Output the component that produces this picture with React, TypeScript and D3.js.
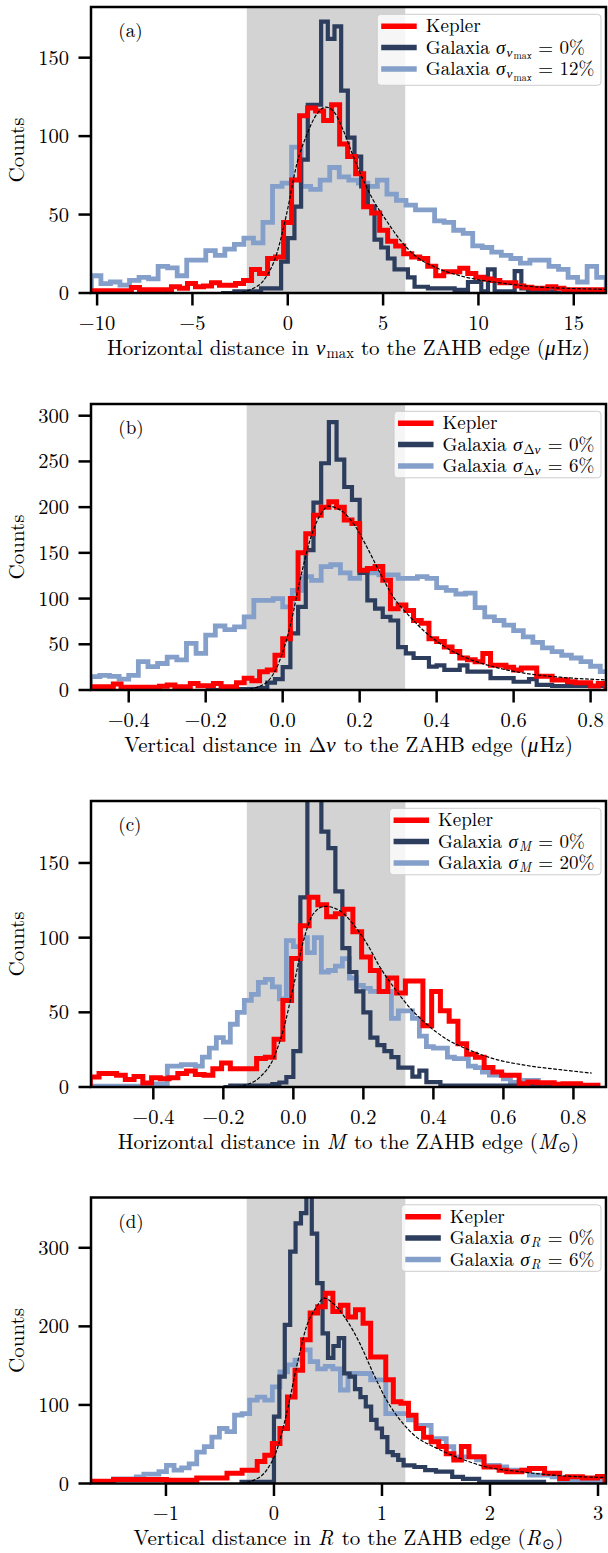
import React, { useEffect, useRef } from 'react';
import * as d3 from 'd3';

const W = 608;
const H = 1553;
const FRAME_LEFT = 91;
const FRAME_RIGHT = 606;
const FRAME_H = 286;

const RED = '#ff0000';
const NAVY = '#2c3d5d';
const LIGHT = '#849fca';
const SHADE = '#d3d3d3';

// ---------- (a) nu_max ----------
const A_XDOMAIN = [-10.32, 16.69];
const A_YMAX = 182.3;
const A_XTICKS = [-10, -5, 0, 5, 10, 15];
const A_YTICKS = [0, 50, 100, 150];
const A_SHADE = [-2.15, 6.16];
const A_KEPLER_START = -10.3;
const A_KEPLER_WIDTH = 0.42;
const A_KEPLER = [
  1.5, 1.5, 1.5, 1.5, 1.5, 3.5, 2, 2, 2, 2,
  4, 3, 6, 4, 4.5, 6.5, 5, 5, 6, 8,
  15, 12.5, 22, 23, 45, 72, 113, 118, 116, 110,
  120, 95, 87, 76, 55, 51, 40, 33, 30, 25,
  23, 22, 17, 11, 13.5, 13.5, 15.7, 12.5, 10, 9,
  8, 6.5, 6.5, 4.5, 3.6, 3, 3, 4, 3, 2,
  2, 2, 2, 2,
];
const A_GAL0_START = -3.5;
const A_GAL0_WIDTH = 0.35;
const A_GAL0 = [
  0, 0, 1, 1, 1, 1, 3, 3, 3, 20,
  35, 55, 85, 120, 120, 173, 162, 170, 129, 99,
  87, 68, 55, 34, 29, 22, 15, 15, 10, 4,
  4, 3, 3, 3, 3, 2, 2, 7, 7, 1,
  15, 1, 1, 1, 14, 3, 2, 1, 1, 1,
  0,
];
const A_GAL12_START = -10.3;
const A_GAL12_WIDTH = 0.5;
const A_GAL12 = [
  11, 6, 7, 5, 8, 10, 9, 17, 16, 11,
  21, 21, 27, 24, 28, 31, 35, 32, 45, 68,
  70, 93, 68, 66, 72, 80, 74, 72, 70, 68,
  72, 63, 59, 56, 53, 53, 46, 45, 40, 38,
  30, 29, 26, 24, 22, 19, 21, 21, 17, 15,
  10, 7, 17, 10,
];
const A_FIT: [number, number][] = [
  [-2.4, 0.5], [-1.9, 2.5], [-1.27, 8], [-0.58, 25], [-0.05, 51], [0.47, 82],
  [1.0, 101], [1.52, 114], [2.0, 118.5], [2.39, 116], [2.9, 104], [3.44, 87],
  [3.96, 72], [4.49, 59], [5.18, 46], [5.88, 34], [6.75, 23], [7.63, 17],
  [9.37, 10], [11.1, 6.5], [12.86, 4], [14.6, 3], [16.69, 2.3],
];

// ---------- (b) delta nu ----------
const B_XDOMAIN = [-0.498, 0.84];
const B_YMAX = 312.8;
const B_XTICKS = [-0.4, -0.2, 0, 0.2, 0.4, 0.6, 0.8];
const B_YTICKS = [0, 50, 100, 150, 200, 250, 300];
const B_SHADE = [-0.0935, 0.318];
const B_KEPLER_START = -0.5;
const B_KEPLER_WIDTH = 0.02;
const B_KEPLER = [
  3.6, 3.6, 3.6, 6.5, 3, 3, 3, 3, 3, 4,
  5.5, 3.6, 3.6, 7, 4.7, 4.7, 7, 3.6, 3.6, 8,
  12.8, 10, 20, 22, 38, 56, 100, 150, 171, 191,
  200, 206, 200, 186, 182, 131, 133, 135, 120, 89,
  93, 87, 76, 73, 56, 53, 47, 42, 35, 33,
  31, 40, 27, 27, 25, 22, 24, 24, 15, 15,
  11, 11, 9, 8, 8, 4.4, 7,
];
const B_GAL0_START = -0.2;
const B_GAL0_WIDTH = 0.02;
const B_GAL0 = [
  0, 0, 0, 1, 1, 1, 1, 2, 8, 12,
  25, 62, 91, 153, 205, 248, 293, 252, 222, 208,
  128, 98, 89, 80, 76, 47, 40, 35, 35, 25.5,
  27, 22, 22, 27, 20, 20, 20, 13, 13, 13,
  9, 9, 12, 5.5, 5.5, 4.4, 4.4, 4.4, 4.4, 4.4,
  4.4, 4.4,
];
const B_GAL6_START = -0.5;
const B_GAL6_WIDTH = 0.025;
const B_GAL6 = [
  14.6, 16, 15, 12, 16, 31, 25.5, 29, 36, 33,
  51, 40, 60, 70, 66, 69, 80, 98, 98, 100,
  91, 109, 124, 120, 135, 137, 128, 122, 130, 128,
  126, 126, 122, 122, 124, 122, 112, 109, 105, 106,
  90, 80, 76, 71, 65, 58, 52, 46, 42, 38,
  35, 31, 26, 20,
];
const B_FIT: [number, number][] = [
  [-0.1, 0.5], [-0.076, 2], [-0.04, 9], [-0.007, 33], [0.019, 69], [0.045, 120],
  [0.071, 164], [0.097, 191], [0.119, 201], [0.149, 197], [0.184, 182],
  [0.218, 157], [0.253, 128], [0.287, 102], [0.331, 80], [0.374, 62],
  [0.426, 46], [0.478, 35], [0.547, 25.5], [0.634, 18], [0.72, 14], [0.84, 11],
];

// ---------- (c) mass ----------
const C_XDOMAIN = [-0.578, 0.893];
const C_YMAX = 191.5;
const C_XTICKS = [-0.4, -0.2, 0, 0.2, 0.4, 0.6, 0.8];
const C_YTICKS = [0, 50, 100, 150];
const C_SHADE = [-0.133, 0.32];
const C_KEPLER_START = -0.58;
const C_KEPLER_WIDTH = 0.025;
const C_KEPLER = [
  6.7, 9, 9, 7.8, 5, 7, 2.7, 6.2, 5.5, 6.2,
  9, 10.7, 8.4, 7.8, 12.2, 16, 12.2, 12.2, 12.2, 19,
  20, 32, 58, 86, 108, 127, 122, 114, 116, 119,
  104, 87, 78, 64, 73, 63, 71, 71, 41, 64,
  51, 44, 29, 22, 20, 13, 10, 7.8, 7.8, 2.2,
  3.3, 2.9, 2.9, 1.8, 2.2, 2.2, 1.1, 1.1,
];
const C_GAL0_START = -0.2;
const C_GAL0_WIDTH = 0.02;
const C_GAL0 = [
  0, 1, 1, 1, 1, 1, 1, 2, 3, 6.7,
  24, 127, 300, 260, 171, 160, 131, 93, 77, 64,
  50, 33, 28, 24, 20, 13, 13, 7, 11, 3.3,
  3.3, 1, 1, 1, 1, 1, 1, 1, 1, 1,
  1, 1, 1, 1, 1, 1, 1, 1, 0,
];
const C_GAL20_START = -0.58;
const C_GAL20_WIDTH = 0.02;
const C_GAL20 = [
  0.5, 0.5, 0.5, 0.5, 0.5, 0.5, 0.5, 0.5, 2, 2,
  2, 14, 14, 15, 15, 14, 20, 26, 33, 30,
  42, 50, 58, 62, 70, 72, 67, 59, 98, 94,
  100, 90, 100, 77, 78, 81, 86, 73, 68, 66,
  64, 64, 64, 46, 51, 51, 46, 34, 27, 26,
  26, 20, 19, 19, 14, 13, 10, 8, 8, 5.5,
  3, 3, 4.4, 4.4, 0,
];
const C_FIT: [number, number][] = [
  [-0.16, 0.3], [-0.143, 1], [-0.095, 6.7], [-0.057, 19], [-0.029, 38], [0, 67],
  [0.029, 98], [0.057, 116], [0.09, 121], [0.133, 118], [0.171, 109],
  [0.21, 96], [0.248, 80], [0.286, 67], [0.333, 53], [0.381, 42], [0.438, 32],
  [0.495, 25.5], [0.571, 19], [0.667, 14.4], [0.762, 11.6], [0.852, 9.3],
];

// ---------- (d) radius ----------
const D_XDOMAIN = [-1.694, 3.074];
const D_YMAX = 364;
const D_XTICKS = [-1, 0, 1, 2, 3];
const D_YTICKS = [0, 100, 200, 300];
const D_SHADE = [-0.253, 1.216];
const D_KEPLER_START = -1.695;
const D_KEPLER_WIDTH = 0.07;
const D_KEPLER = [
  3, 3, 3, 5, 5, 5, 5, 5, 5, 5,
  4, 4, 4, 4, 7, 7, 7, 7, 13, 13,
  17, 17, 28, 36, 51, 70, 110, 144, 183, 217,
  225, 242, 219, 227, 212, 221, 204, 161, 161, 132,
  104, 102, 87, 70, 59, 53, 47, 38, 30, 47,
  34, 34, 21, 21, 17, 15, 15, 17, 19, 19,
  13, 13, 6.4, 8.5, 8.5, 7, 7, 9,
];
const D_GAL0_START = -0.3;
const D_GAL0_WIDTH = 0.05;
const D_GAL0 = [
  2, 2, 2, 2, 2, 2, 85, 136, 202, 295,
  331, 344, 380, 318, 255, 191, 160, 175, 185, 140,
  136, 120, 110, 98, 81, 70, 59, 40, 36, 30,
  23, 23, 21, 21, 17, 17, 15, 15, 15, 8.5,
  8.5, 6, 6, 6, 2, 2, 2, 2, 2, 2,
  2, 2, 2, 2, 2, 2,
];
const D_GAL6_START = -1.695;
const D_GAL6_WIDTH = 0.07;
const D_GAL6 = [
  1, 1, 1, 6, 6, 6, 8.5, 12, 12, 15,
  23, 17, 20, 25, 40, 47, 59, 70, 66, 87,
  89, 106, 110, 106, 123, 142, 151, 157, 170, 155,
  146, 149, 146, 119, 140, 140, 140, 132, 132, 89,
  89, 89, 81, 74, 74, 57, 57, 47, 34, 34,
  34, 30, 23, 23, 21, 17, 17, 17, 10.6, 10.6,
  10.6, 8.5, 4, 4, 4, 3, 3, 3,
];
const D_FIT: [number, number][] = [
  [-0.3, 0.5], [-0.19, 4], [-0.068, 17], [0.025, 42], [0.117, 89], [0.21, 149],
  [0.302, 200], [0.395, 225], [0.465, 236], [0.549, 229], [0.673, 208],
  [0.796, 178], [0.92, 140], [1.043, 106], [1.167, 81], [1.32, 59],
  [1.475, 47], [1.722, 32], [1.969, 21], [2.278, 15], [2.586, 10.6], [3.074, 7.6],
];

// rich text pieces: it = italic, lvl = subscript depth
type Seg = { t: string; it?: boolean; lvl?: number };

const A_XLABEL: Seg[] = [
  { t: 'Horizontal distance in ' }, { t: 'ν', it: true }, { t: 'max', lvl: 1 },
  { t: ' to the ZAHB edge (' }, { t: 'μ', it: true }, { t: 'Hz)' },
];
const B_XLABEL: Seg[] = [
  { t: 'Vertical distance in Δ' }, { t: 'ν', it: true },
  { t: ' to the ZAHB edge (' }, { t: 'μ', it: true }, { t: 'Hz)' },
];
const C_XLABEL: Seg[] = [
  { t: 'Horizontal distance in ' }, { t: 'M', it: true },
  { t: ' to the ZAHB edge (' }, { t: 'M', it: true }, { t: '⊙', lvl: 1 }, { t: ')' },
];
const D_XLABEL: Seg[] = [
  { t: 'Vertical distance in ' }, { t: 'R', it: true },
  { t: ' to the ZAHB edge (' }, { t: 'R', it: true }, { t: '⊙', lvl: 1 }, { t: ')' },
];

const KEPLER_LABEL: Seg[] = [{ t: 'Kepler' }];
const A_SIGMA: Seg[] = [{ t: 'σ', it: true }, { t: 'ν', it: true, lvl: 1 }, { t: 'max', lvl: 2 }];
const B_SIGMA: Seg[] = [{ t: 'σ', it: true }, { t: 'Δ', lvl: 1 }, { t: 'ν', it: true, lvl: 1 }];
const C_SIGMA: Seg[] = [{ t: 'σ', it: true }, { t: 'M', it: true, lvl: 1 }];
const D_SIGMA: Seg[] = [{ t: 'σ', it: true }, { t: 'R', it: true, lvl: 1 }];
const A_ERRORS = ['0%', '12%'];
const B_ERRORS = ['0%', '6%'];
const C_ERRORS = ['0%', '20%'];
const D_ERRORS = ['0%', '6%'];

const galaxia = (sigma: Seg[], err: string): Seg[] => [
  { t: 'Galaxia ' }, ...sigma, { t: ` = ${err}` },
];

const PANELS = [
  {
    top: 7, tag: '(a)', xDomain: A_XDOMAIN, yMax: A_YMAX, xTicks: A_XTICKS, yTicks: A_YTICKS,
    shade: A_SHADE, fmt: d3.format('d'), fit: A_FIT, xLabel: A_XLABEL, legendH: 71,
    hists: [
      { start: A_GAL12_START, width: A_GAL12_WIDTH, counts: A_GAL12, color: LIGHT, lw: 4.8 },
      { start: A_GAL0_START, width: A_GAL0_WIDTH, counts: A_GAL0, color: NAVY, lw: 4.2 },
      { start: A_KEPLER_START, width: A_KEPLER_WIDTH, counts: A_KEPLER, color: RED, lw: 5 },
    ],
    legend: [KEPLER_LABEL, galaxia(A_SIGMA, A_ERRORS[0]), galaxia(A_SIGMA, A_ERRORS[1])],
  },
  {
    top: 404, tag: '(b)', xDomain: B_XDOMAIN, yMax: B_YMAX, xTicks: B_XTICKS, yTicks: B_YTICKS,
    shade: B_SHADE, fmt: d3.format('.1f'), fit: B_FIT, xLabel: B_XLABEL, legendH: 66.5,
    hists: [
      { start: B_GAL6_START, width: B_GAL6_WIDTH, counts: B_GAL6, color: LIGHT, lw: 4.8 },
      { start: B_GAL0_START, width: B_GAL0_WIDTH, counts: B_GAL0, color: NAVY, lw: 4.2 },
      { start: B_KEPLER_START, width: B_KEPLER_WIDTH, counts: B_KEPLER, color: RED, lw: 5 },
    ],
    legend: [KEPLER_LABEL, galaxia(B_SIGMA, B_ERRORS[0]), galaxia(B_SIGMA, B_ERRORS[1])],
  },
  {
    top: 801, tag: '(c)', xDomain: C_XDOMAIN, yMax: C_YMAX, xTicks: C_XTICKS, yTicks: C_YTICKS,
    shade: C_SHADE, fmt: d3.format('.1f'), fit: C_FIT, xLabel: C_XLABEL, legendH: 66.5,
    hists: [
      { start: C_GAL20_START, width: C_GAL20_WIDTH, counts: C_GAL20, color: LIGHT, lw: 4.8 },
      { start: C_GAL0_START, width: C_GAL0_WIDTH, counts: C_GAL0, color: NAVY, lw: 4.2 },
      { start: C_KEPLER_START, width: C_KEPLER_WIDTH, counts: C_KEPLER, color: RED, lw: 5 },
    ],
    legend: [KEPLER_LABEL, galaxia(C_SIGMA, C_ERRORS[0]), galaxia(C_SIGMA, C_ERRORS[1])],
  },
  {
    top: 1197.5, tag: '(d)', xDomain: D_XDOMAIN, yMax: D_YMAX, xTicks: D_XTICKS, yTicks: D_YTICKS,
    shade: D_SHADE, fmt: d3.format('d'), fit: D_FIT, xLabel: D_XLABEL, legendH: 66.5,
    hists: [
      { start: D_GAL6_START, width: D_GAL6_WIDTH, counts: D_GAL6, color: LIGHT, lw: 4.8 },
      { start: D_GAL0_START, width: D_GAL0_WIDTH, counts: D_GAL0, color: NAVY, lw: 4.2 },
      { start: D_KEPLER_START, width: D_KEPLER_WIDTH, counts: D_KEPLER, color: RED, lw: 5 },
    ],
    legend: [KEPLER_LABEL, galaxia(D_SIGMA, D_ERRORS[0]), galaxia(D_SIGMA, D_ERRORS[1])],
  },
];

const LEGEND_COLORS = [RED, NAVY, LIGHT];
const SUB_SIZE = [1, 0.7, 0.52];
const SUB_SHIFT = [0, 0.17, 0.3];

// Latin Modern is the closest thing to the LaTeX look if the box has it
function hasFont(name: string): boolean {
  const ctx = document.createElement('canvas').getContext('2d');
  if (!ctx) return false;
  const sample = 'Kepler Galaxia 0123456789 mmmWWWiii';
  ctx.font = '40px monospace';
  const base = ctx.measureText(sample).width;
  ctx.font = `40px "${name}", monospace`;
  return Math.abs(ctx.measureText(sample).width - base) > 0.5;
}

function richText(sel: d3.Selection<SVGTextElement, unknown, null, undefined>, segs: Seg[], size: number) {
  let cur = 0;
  let prevItalic = false;
  segs.forEach((s) => {
    const lvl = s.lvl ?? 0;
    const shift = SUB_SHIFT[lvl] * size;
    sel.append('tspan')
      .attr('dx', prevItalic ? size * 0.06 : 0)
      .attr('dy', shift - cur)
      .attr('font-style', s.it ? 'italic' : 'normal')
      .attr('font-size', size * SUB_SIZE[lvl])
      .text(s.t);
    cur = shift;
    prevItalic = !!s.it;
  });
}

// outline of a step histogram, dropping to zero at both ends
function stepPoints(start: number, width: number, counts: number[]): [number, number][] {
  const pts: [number, number][] = [[start, 0]];
  counts.forEach((c, i) => {
    pts.push([start + i * width, c]);
    pts.push([start + (i + 1) * width, c]);
  });
  pts.push([start + counts.length * width, 0]);
  return pts;
}

export default function App() {
  const ref = useRef<SVGSVGElement>(null);

  useEffect(() => {
    document.body.style.margin = '0';
    const lm = hasFont('Latin Modern Roman');
    const font = lm ? '"Latin Modern Roman", "Liberation Serif", serif' : '"Liberation Serif", serif';
    const tickSize = lm ? 20.5 : 20;
    const labelSize = lm ? 21 : 20;
    const legendSize = lm ? 19 : 19.5;
    const tickSpacing = lm ? 0 : 0.5;
    const labelSpacing = lm ? 0 : 1.3;

    const svg = d3.select(ref.current);
    svg.selectAll('*').remove();
    svg.attr('font-family', font);

    PANELS.forEach((p, pi) => {
      const top = p.top;
      const bottom = top + FRAME_H;
      const x = d3.scaleLinear().domain(p.xDomain).range([FRAME_LEFT, FRAME_RIGHT]);
      const y = d3.scaleLinear().domain([0, p.yMax]).range([bottom, top]);
      const g = svg.append('g');

      const clipId = `clip-${pi}`;
      g.append('clipPath').attr('id', clipId)
        .append('rect')
        .attr('x', FRAME_LEFT).attr('y', top)
        .attr('width', FRAME_RIGHT - FRAME_LEFT).attr('height', FRAME_H);
      const plot = g.append('g').attr('clip-path', `url(#${clipId})`);

      // ZAHB band
      plot.append('rect')
        .attr('x', x(p.shade[0])).attr('y', top)
        .attr('width', x(p.shade[1]) - x(p.shade[0])).attr('height', FRAME_H)
        .attr('fill', SHADE);

      const line = d3.line<[number, number]>().x((d) => x(d[0])).y((d) => y(d[1]));
      p.hists.forEach((h) => {
        plot.append('path')
          .attr('d', line(stepPoints(h.start, h.width, h.counts)))
          .attr('fill', 'none')
          .attr('stroke', h.color)
          .attr('stroke-width', h.lw)
          .attr('stroke-linejoin', 'miter');
      });

      plot.append('path')
        .attr('d', line.curve(d3.curveMonotoneX)(p.fit))
        .attr('fill', 'none')
        .attr('stroke', '#000')
        .attr('stroke-width', 1.2)
        .attr('stroke-dasharray', '3.7,1.6');

      g.append('rect')
        .attr('x', FRAME_LEFT).attr('y', top)
        .attr('width', FRAME_RIGHT - FRAME_LEFT).attr('height', FRAME_H)
        .attr('fill', 'none').attr('stroke', '#000').attr('stroke-width', 2.5);

      p.xTicks.forEach((t) => {
        g.append('line')
          .attr('x1', x(t)).attr('x2', x(t))
          .attr('y1', bottom).attr('y2', bottom + 12.5)
          .attr('stroke', '#000').attr('stroke-width', 2.5);
        g.append('text')
          .attr('x', x(t)).attr('y', bottom + 36.7)
          .attr('text-anchor', 'middle')
          .attr('font-size', tickSize)
          .attr('letter-spacing', tickSpacing)
          .text(p.fmt(t));
      });

      p.yTicks.forEach((t) => {
        g.append('line')
          .attr('x1', FRAME_LEFT - 12.5).attr('x2', FRAME_LEFT)
          .attr('y1', y(t)).attr('y2', y(t))
          .attr('stroke', '#000').attr('stroke-width', 2.5);
        g.append('text')
          .attr('x', 69).attr('y', y(t) + 7)
          .attr('text-anchor', 'end')
          .attr('font-size', tickSize)
          .attr('letter-spacing', tickSpacing)
          .text(d3.format('d')(t));
      });

      g.append('text')
        .attr('transform', `translate(24,${top + FRAME_H / 2}) rotate(-90)`)
        .attr('text-anchor', 'middle')
        .attr('font-size', labelSize)
        .attr('letter-spacing', labelSpacing)
        .text('Counts');

      const xl = g.append('text')
        .attr('x', (FRAME_LEFT + FRAME_RIGHT) / 2)
        .attr('y', bottom + 61.5)
        .attr('text-anchor', 'middle')
        .attr('font-size', labelSize)
        .attr('letter-spacing', labelSpacing)
        .style('white-space', 'pre');
      richText(xl, p.xLabel, labelSize);

      g.append('text')
        .attr('x', 118.3).attr('y', top + 30)
        .attr('font-size', legendSize)
        .text(p.tag);

      // legend, sized from the measured text
      const lg = g.append('g');
      const box = lg.append('rect');
      const rows = [top + 19.2, top + 40.6, top + 62];
      let maxW = 0;
      const texts: SVGTextElement[] = [];
      p.legend.forEach((segs, i) => {
        const t = lg.append('text')
          .attr('y', rows[i] + 6)
          .attr('font-size', legendSize)
          .style('white-space', 'pre');
        richText(t, segs, legendSize);
        const node = t.node() as SVGTextElement;
        texts.push(node);
        maxW = Math.max(maxW, node.getComputedTextLength());
      });
      const boxRight = FRAME_RIGHT - 5;
      const boxW = 48.5 + maxW + 9;
      const boxX = boxRight - boxW;
      box.attr('x', boxX).attr('y', top + 7.3)
        .attr('width', boxW).attr('height', p.legendH)
        .attr('rx', 3.5)
        .attr('fill', '#fff').attr('fill-opacity', 0.8)
        .attr('stroke', '#cccccc').attr('stroke-width', 1);
      texts.forEach((node, i) => {
        d3.select(node).attr('x', boxX + 48.5);
        lg.append('line')
          .attr('x1', boxX + 4).attr('x2', boxX + 39.5)
          .attr('y1', rows[i]).attr('y2', rows[i])
          .attr('stroke', LEGEND_COLORS[i]).attr('stroke-width', 5.5);
      });
    });
  }, []);

  return <svg ref={ref} width={W} height={H} style={{ display: 'block', background: '#fff' }} />;
}
